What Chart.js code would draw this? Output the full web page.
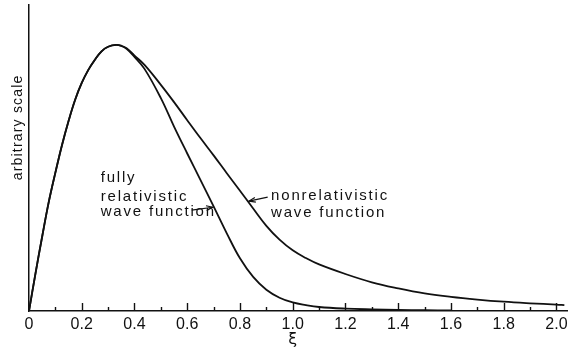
<!DOCTYPE html>
<html>
<head>
<meta charset="utf-8">
<script src="https://cdn.jsdelivr.net/npm/chart.js@4.4.0/dist/chart.umd.min.js"></script>
<style>
html,body{margin:0;padding:0;background:#fff;}
#wrap{width:580px;height:350px;position:relative;}
</style>
</head>
<body>
<div id="wrap"><canvas id="c" width="580" height="350"></canvas></div>
<script>
// ---- data (peak normalised to 1) ----
const xiRel  = [0, 0.025, 0.05, 0.075, 0.1, 0.125, 0.15, 0.175, 0.2, 0.225, 0.25, 0.275, 0.3, 0.33, 0.35, 0.37, 0.4, 0.438, 0.5, 0.55, 0.6, 0.65, 0.7, 0.75, 0.8, 0.85, 0.9, 0.95, 1.0, 1.05, 1.1, 1.2, 1.3, 1.4, 1.5, 1.6];
const relVal = [0, 0.143, 0.28, 0.41, 0.52, 0.623, 0.714, 0.794, 0.857, 0.906, 0.944, 0.976, 0.993, 1.0, 0.996, 0.985, 0.955, 0.91, 0.80, 0.693, 0.592, 0.493, 0.393, 0.292, 0.198, 0.128, 0.08, 0.05, 0.032, 0.022, 0.015, 0.009, 0.006, 0.004, 0.003, 0.002];
const xiNon  = [0, 0.025, 0.05, 0.075, 0.1, 0.125, 0.15, 0.175, 0.2, 0.225, 0.25, 0.275, 0.3, 0.33, 0.35, 0.37, 0.4, 0.438, 0.5, 0.55, 0.6, 0.65, 0.7, 0.75, 0.8, 0.85, 0.9, 0.95, 1.0, 1.05, 1.1, 1.2, 1.3, 1.4, 1.5, 1.6, 1.7, 1.8, 1.9, 2.0, 2.03];
const nonVal = [0, 0.143, 0.28, 0.41, 0.52, 0.623, 0.714, 0.794, 0.857, 0.906, 0.944, 0.976, 0.993, 1.0, 0.997, 0.988, 0.96, 0.925, 0.85, 0.785, 0.717, 0.65, 0.585, 0.518, 0.452, 0.385, 0.32, 0.268, 0.228, 0.199, 0.175, 0.139, 0.108, 0.085, 0.066, 0.053, 0.043, 0.035, 0.029, 0.024, 0.022];
const xTicks = [0,0.1,0.2,0.3,0.4,0.5,0.6,0.7,0.8,0.9,1.0,1.1,1.2,1.3,1.4,1.5,1.6,1.7,1.8,1.9,2.0];
const xTickLabels = ['0','','0.2','','0.4','','0.6','','0.8','','1.0','','1.2','','1.4','','1.6','','1.8','','2.0'];
const yTitle = 'arbitrary scale';
const xTitle = 'ξ';
const relText = ['fully','relativistic','wave function'];
const nonText = ['nonrelativistic','wave function'];

const toXY = (xs, ys) => xs.map((x,i)=>({x:x, y:ys[i]}));

const annot = {
  id:'annot',
  afterDraw(chart){
    const ctx = chart.ctx, xs = chart.scales.x, ys = chart.scales.y;
    const px = v => xs.getPixelForValue(v), py = v => ys.getPixelForValue(v);
    ctx.save();
    ctx.strokeStyle = '#111'; ctx.fillStyle = '#111';
    // inward tick marks
    const base = chart.chartArea.bottom;
    ctx.lineWidth = 1.4;
    xTicks.forEach((v,i)=>{
      const x = Math.round(px(v))+0.5;
      const len = (i%2===0) ? 8 : 4;
      if (i===0) return;
      ctx.beginPath(); ctx.moveTo(x, base); ctx.lineTo(x, base-len); ctx.stroke();
    });
    // text
    ctx.font = '15px "Liberation Sans Narrow", "Liberation Sans", sans-serif';
    try { ctx.letterSpacing = '1.8px'; } catch(e){}
    ctx.textBaseline = 'alphabetic'; ctx.textAlign = 'left';
    const rl = [0.483, 0.415, 0.357];
    relText.forEach((t,i)=> ctx.fillText(t, px(0.272), py(rl[i])));
    const nl = [0.417, 0.354];
    nonText.forEach((t,i)=> ctx.fillText(t, px(0.918), py(nl[i])));
    // arrows
    function arrow(x1,y1,x2,y2){
      const a = Math.atan2(y2-y1, x2-x1);
      ctx.lineWidth = 1.2;
      ctx.beginPath(); ctx.moveTo(x1,y1); ctx.lineTo(x2,y2); ctx.stroke();
      ctx.beginPath();
      ctx.moveTo(x2 - 7*Math.cos(a-0.35), y2 - 7*Math.sin(a-0.35));
      ctx.lineTo(x2, y2);
      ctx.lineTo(x2 - 7*Math.cos(a+0.35), y2 - 7*Math.sin(a+0.35));
      ctx.stroke();
    }
    arrow(px(0.617), py(0.379), px(0.697), py(0.390));
    arrow(px(0.905), py(0.428), px(0.834), py(0.413));
    // y title
    ctx.font = '14px "Liberation Sans Narrow", "Liberation Sans", sans-serif';
    try { ctx.letterSpacing = '1.2px'; } catch(e){}
    ctx.save();
    ctx.translate(18, py(0.69));
    ctx.rotate(-Math.PI/2);
    ctx.textAlign = 'center'; ctx.textBaseline = 'middle';
    ctx.fillText(yTitle, 0, 0);
    ctx.restore();
    // x title
    ctx.font = '16px "DejaVu Sans", sans-serif';
    try { ctx.letterSpacing = '0px'; } catch(e){}
    ctx.textAlign = 'center'; ctx.textBaseline = 'middle';
    ctx.fillText(xTitle, px(1.0), 340);
    ctx.restore();
  }
};

new Chart(document.getElementById('c'), {
  type:'line',
  data:{
    datasets:[
      {label:'fully relativistic', data: toXY(xiRel, relVal), borderColor:'#111', borderWidth:1.8, pointRadius:0, tension:0.4, fill:false},
      {label:'nonrelativistic', data: toXY(xiNon, nonVal), borderColor:'#111', borderWidth:1.8, pointRadius:0, tension:0.4, fill:false}
    ]
  },
  options:{
    responsive:false,
    animation:false,
    layout:{padding:{top:5, right:13, left:0, bottom:0}},
    plugins:{legend:{display:false}, tooltip:{enabled:false}},
    scales:{
      x:{
        type:'linear', min:0, max:2.04,
        afterBuildTicks(s){ s.ticks = xTicks.map(v=>({value:v})); },
        afterFit(s){ s.height = 39; },
        grid:{display:false, drawTicks:false},
        border:{display:true, color:'#111', width:1.5},
        ticks:{
          autoSkip:false, maxRotation:0, padding:4, color:'#111',
          font:{family:'"Liberation Sans Narrow", "Liberation Sans", sans-serif', size:16},
          callback(v, i){ return xTickLabels[i]; }
        }
      },
      y:{
        type:'linear', min:0, max:1.15,
        afterFit(s){ s.width = 29; },
        grid:{display:false, drawTicks:false},
        border:{display:true, color:'#111', width:1.5},
        ticks:{display:false}
      }
    }
  },
  plugins:[annot]
});
</script>
</body>
</html>
